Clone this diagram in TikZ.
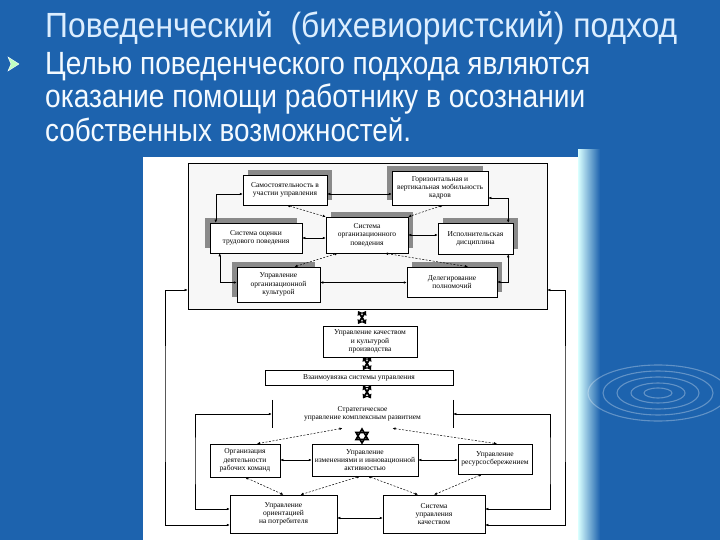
\documentclass[tikz,border=0pt]{standalone}
\usepackage{fontspec}
\setmainfont{Liberation Sans}
\newfontfamily\dfont{Liberation Serif}
\usetikzlibrary{arrows.meta,shadows,calc}
\definecolor{slideblue}{HTML}{1D63AE}
\definecolor{titlecol}{HTML}{DCEEFF}
\definecolor{bodycol}{HTML}{F4FAFF}
\definecolor{shadowgray}{HTML}{8A8A8A}
\tikzset{
  box/.style={draw=black, line width=0.5pt, fill=white, inner sep=1pt, align=center,
    font=\dfont\fontsize{7.5}{8.3}\selectfont},
  shUR/.style={general shadow={fill=shadowgray, shadow xshift=5pt, shadow yshift=5pt}},
  shUL/.style={general shadow={fill=shadowgray, shadow xshift=-5pt, shadow yshift=5pt}},
  link/.style={<->, line width=0.5pt},
  dlink/.style={<->, line width=0.5pt, dash pattern=on 2pt off 1.5pt},
  updown/.pic={
    \draw[line width=1.8pt,{Triangle[length=4pt,width=5.5pt]}-{Triangle[length=4pt,width=5.5pt]}] (-4,-6.5)--(4,6.5);
    \draw[line width=1.8pt,{Triangle[length=4pt,width=5.5pt]}-{Triangle[length=4pt,width=5.5pt]}] (4,-6.5)--(-4,6.5);
  },
  hexa/.pic={
    \draw[line width=1.6pt] (0,-7)--(6,3.5)--(-6,3.5)--cycle;
    \draw[line width=1.6pt] (0,7)--(6,-3.5)--(-6,-3.5)--cycle;
  }
}
\begin{document}
\begin{tikzpicture}[x=1pt,y=-1pt,>={Latex[length=3pt,width=2.6pt]}]
\useasboundingbox (0,0) rectangle (720,540);
\fill[slideblue] (0,0) rectangle (720,540);
% light strip and ripples
\shade[left color=white!85!cyan, right color=slideblue] (578,150) rectangle (600,540);
\foreach \rx/\ry in {14/5,27/10,41/16,55/22,70/28}
  \draw[white, opacity=0.3, line width=1.1pt] (658,393) ellipse [x radius=\rx, y radius=\ry];
% title and text
\node[anchor=base west, inner sep=0, text=titlecol] (title) at (45,38)
  {\resizebox{632pt}{!}{\scalebox{1}[1.1]{\fontsize{30}{36}\selectfont Поведенческий\ \ (бихевиористский) подход}}};
\fill[white!75!green, draw=white, line width=0.4pt] (8,57)--(19,64)--(8,71)--(11,64)--cycle;
\node[anchor=base west, inner sep=0, text=bodycol] (l1) at (45,75)
  {\resizebox{545pt}{!}{\scalebox{1}[1.15]{\fontsize{28}{34}\selectfont Целью поведенческого подхода являются}}};
\node[anchor=base west, inner sep=0, text=bodycol] (l2) at (45,108)
  {\resizebox{540pt}{!}{\scalebox{1}[1.15]{\fontsize{28}{34}\selectfont оказание помощи работнику в осознании}}};
\node[anchor=base west, inner sep=0, text=bodycol] (l3) at (45,142)
  {\resizebox{366pt}{!}{\scalebox{1}[1.15]{\fontsize{28}{34}\selectfont собственных возможностей.}}};
% diagram image
\fill[white] (143,157) rectangle (578,540);
\node[draw=black, line width=0.6pt, fill=gray!6, minimum width=359pt, minimum height=146pt, inner sep=0] (top) at (367.5,236) {};
% top boxes
\node[box,shUR,minimum width=84pt,minimum height=30pt] (A) at (285,190) {Самостоятельность в\\участии управления};
\node[box,shUL,minimum width=96pt,minimum height=34pt] (B) at (440,188) {Горизонтальная и\\вертикальная мобильность\\кадров};
\node[box,shUL,minimum width=92pt,minimum height=30pt] (C) at (256,238) {Система оценки\\трудового поведения};
\node[box,shUR,minimum width=82pt,minimum height=36pt] (D) at (367,235) {Система\\организационного\\поведения};
\node[box,shUR,minimum width=75pt,minimum height=31pt] (E) at (475.5,238.5) {Исполнительская\\дисциплина};
\node[box,shUL,minimum width=83pt,minimum height=35pt] (F) at (278.5,284.5) {Управление\\организационной\\культурой};
\node[box,shUR,minimum width=90pt,minimum height=30pt] (G) at (452,282) {Делегирование\\полномочий};
% top connectors
\draw[link] ([xshift=6pt]C.north west) |- ([yshift=-4pt]A.west);
\draw[link] ([yshift=-4pt]A.east) -- ([yshift=-4pt]A.east -| B.west);
\draw[dlink] ([xshift=2pt]A.south) -- (D.north west);
\draw[dlink] ([xshift=3pt]B.south) -- (D.north east);
\draw[link] (C.east) -- (C.east -| D.west);
\draw[link] (D.east) -- (D.east -| E.west);
\draw[link] ([xshift=-5pt]E.north east) |- ([yshift=-10pt]B.east);
\draw[link] ([xshift=-5pt]E.south east) |- (G.east);
\draw[link] ([xshift=10pt]C.south west) |- ([yshift=2pt]F.west);
\draw[link] ([yshift=2pt]F.east) -- ([yshift=2pt]F.east -| G.west);
\draw[dlink] ([xshift=12pt]D.south west) -- ([xshift=16pt]F.north);
\draw[dlink] ([xshift=18pt]D.south) -- ([xshift=16pt]G.north);
% middle
\node[box,minimum width=94pt,minimum height=31pt] (H) at (370,341.5) {Управление качеством\\и культурой\\производства};
\node[box,minimum width=188pt,minimum height=15pt] (I) at (359,377.5) {Взаимоувязка системы управления};
\node[box,draw=none,fill=none,minimum width=181pt,minimum height=28pt] (J) at (362.5,414) {Стратегическое\\управление комплексным развитием};
\draw[line width=0.5pt] (J.north west)--(J.south west) (J.north east)--(J.south east);
\pic at (362,317.5) {updown};
\pic at (367,363.5) {updown};
\pic at (367,392) {updown};
\pic at (362,436) {hexa};
% lower boxes
\node[box,minimum width=70pt,minimum height=33pt] (K) at (245,460.5) {Организация\\деятельности\\рабочих команд};
\node[box,minimum width=106pt,minimum height=32pt] (L) at (365,460) {Управление\\изменениями и инновационной\\активностью};
\node[box,minimum width=74pt,minimum height=30pt] (M) at (495,459) {Управление\\ресурсосбережением};
\node[box,minimum width=107pt,minimum height=38pt] (N1) at (283.5,514) {Управление\\ориентацией\\на потребителя};
\node[box,minimum width=102pt,minimum height=38pt] (N2) at (434,514) {Система\\управления\\качеством};
% lower connectors
\draw[link] (K.east |- L.west) -- (L.west);
\draw[link] (L.east) -- (L.east -| M.west);
\draw[link] ([yshift=-4pt]N1.east) -- ([yshift=-4pt]N1.east -| N2.west);
\draw[dlink] ([xshift=-20pt]J.south) -- ([xshift=12pt]K.north);
\draw[dlink] ([xshift=30pt]J.south) -- ([xshift=2pt]M.north);
\draw[dlink] (K.south) -- (N1.north);
\draw[dlink] ([xshift=-5pt]L.south) -- ([xshift=17pt]N1.north);
\draw[dlink] ([xshift=3pt]L.south) -- ([xshift=-16pt]N2.north);
\draw[dlink] ([xshift=-13pt]M.south) -- (N2.north);
% outer loops
\coordinate (lft) at (165,400);
\coordinate (rgt) at (565,400);
\coordinate (lft2) at (195,460);
\coordinate (rgt2) at (550,460);
\draw[link] ([yshift=-54pt]top.west) -| (lft) |- ([yshift=-11pt]N1.west);
\draw[link] ([yshift=-54pt]top.east) -| (rgt) |- ([yshift=-11pt]N2.east);
\draw[link] (J.west) -| (lft2) |- ([yshift=5pt]N1.west);
\draw[link] (J.east) -| (rgt2) |- ([yshift=5pt]N2.east);
\end{tikzpicture}
\end{document}
